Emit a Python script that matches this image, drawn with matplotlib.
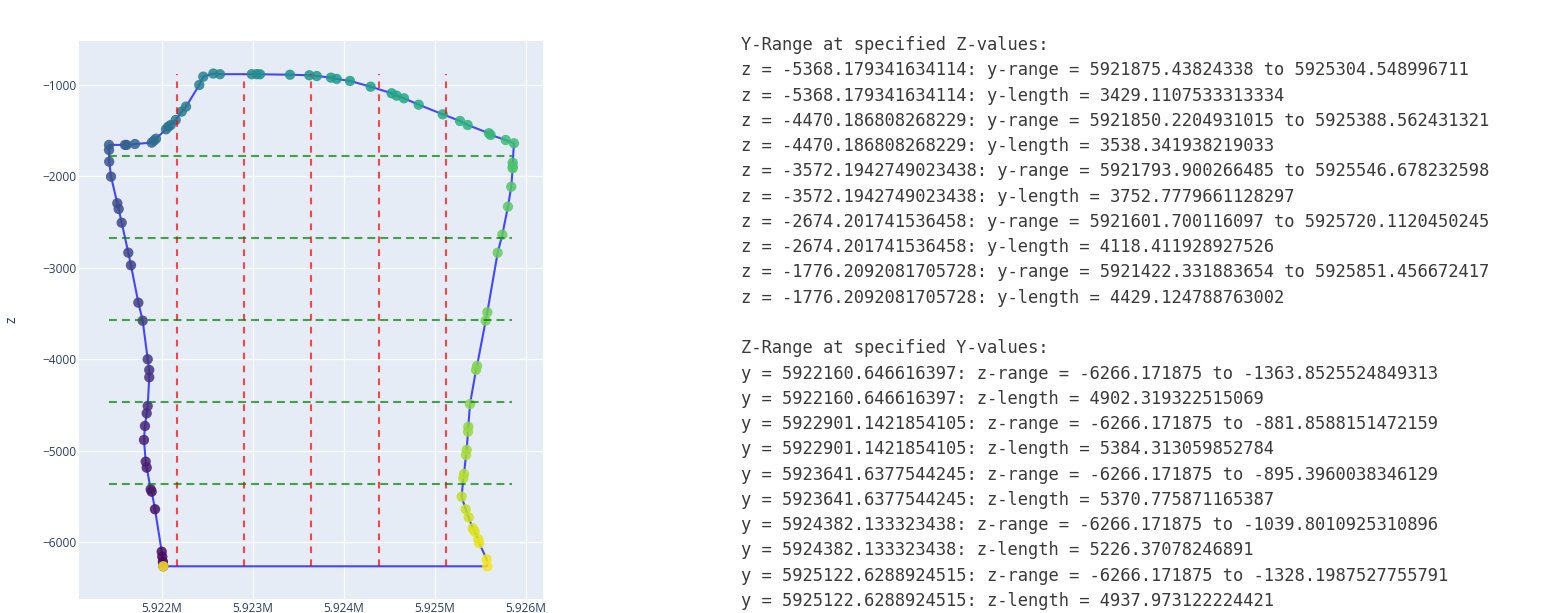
import numpy as np
import matplotlib.pyplot as plt
from matplotlib.ticker import FixedLocator, FuncFormatter

# --- boundary of the section (y, z), traced counter-clockwise, last point closes the loop ---
y_pts = [5922015, 5922010, 5922003, 5921997, 5921923, 5921887, 5921876, 5921832, 5921821,
         5921802, 5921813, 5921832, 5921843, 5921860, 5921860, 5921843, 5921788, 5921740,
         5921659, 5921630, 5921557, 5921524, 5921509, 5921440, 5921420, 5921418, 5921418,
         5921593, 5921612, 5921703, 5921887, 5921912, 5921934, 5922044, 5922069, 5922096,
         5922151, 5922216, 5922264, 5922410, 5922454, 5922564, 5922637, 5922986, 5923041,
         5923077, 5923407, 5923619, 5923700, 5923857, 5923920, 5924066, 5924293, 5924524,
         5924579, 5924659, 5924821, 5925085, 5925275, 5925359, 5925593, 5925612, 5925777,
         5925868, 5925854, 5925854, 5925854, 5925838, 5925802, 5925740, 5925689, 5925575,
         5925557, 5925462, 5925451, 5925385, 5925366, 5925363, 5925348, 5925341, 5925319,
         5925311, 5925293, 5925337, 5925370, 5925414, 5925436, 5925476, 5925487, 5925568,
         5925575, 5922015]
z_pts = [-6266.17, -6216, -6161, -6106, -5642, -5450, -5424, -5187, -5121,
         -4884, -4731, -4592, -4512, -4198, -4118, -4001, -3579, -3382,
         -2973, -2835, -2507, -2357, -2294, -2003, -1839, -1711, -1656,
         -1656, -1656, -1646, -1631, -1609, -1588, -1485, -1456, -1438,
         -1383, -1292, -1237, -1000, -909, -875, -882, -882, -882,
         -883, -888, -894, -902, -920, -934, -956, -1019, -1091,
         -1117, -1146, -1216, -1321, -1394, -1438, -1528, -1547, -1602,
         -1638, -1850, -1894, -1911, -2113, -2331, -2638, -2835, -3487,
         -3579, -4074, -4118, -4490, -4739, -4793, -4993, -5048, -5256,
         -5303, -5504, -5642, -5730, -5850, -5887, -5970, -6014, -6189,
         -6266.17, -6266.17]

# --- slices at given z values ---
z_levels = [-5368.179341634114, -4470.186808268229, -3572.1942749023438,
            -2674.201741536458, -1776.2092081705728]
y_lo = [5921875.43824338, 5921850.2204931015, 5921793.900266485,
        5921601.700116097, 5921422.331883654]
y_hi = [5925304.548996711, 5925388.562431321, 5925546.678232598,
        5925720.1120450245, 5925851.456672417]
y_len = [3429.1107533313334, 3538.341938219033, 3752.7779661128297,
         4118.411928927526, 4429.124788763002]

# --- slices at given y values ---
y_levels = [5922160.646616397, 5922901.1421854105, 5923641.6377544245,
            5924382.133323438, 5925122.6288924515]
z_lo = [-6266.171875, -6266.171875, -6266.171875, -6266.171875, -6266.171875]
z_hi = [-1363.8525524849313, -881.8588151472159, -895.3960038346129,
        -1039.8010925310896, -1328.1987527755791]
z_len = [4902.319322515069, 5384.313059852784, 5370.775871165387,
         5226.37078246891, 4937.973122224421]

x_ticks = [5922000, 5923000, 5924000, 5925000, 5926000]
z_ticks = [-6000, -5000, -4000, -3000, -2000, -1000]

W, H = 1563, 613
fig = plt.figure(figsize=(W / 100, H / 100), dpi=100)
ax = fig.add_axes([79 / W, 1 - 599 / H, 464 / W, 558 / H])
ax.set_facecolor('#E5ECF6')
for s in ax.spines.values():
    s.set_visible(False)

ax.set_xlim(5921088, 5926187)
ax.set_ylim(-6624, -519)
ax.xaxis.set_major_locator(FixedLocator(x_ticks))
ax.yaxis.set_major_locator(FixedLocator(z_ticks))
ax.xaxis.set_major_formatter(FuncFormatter(lambda v, p: f'{v / 1e6:.3f}M'))
ax.yaxis.set_major_formatter(FuncFormatter(lambda v, p: f'\u2212{abs(v):.0f}' if v < 0 else f'{v:.0f}'))
ax.tick_params(length=0, labelsize=8.6, labelcolor='#2a3f5f', pad=2)
for lab in ax.get_xticklabels() + ax.get_yticklabels():
    lab.set_family('Open Sans')
ax.grid(True, color='white', lw=0.9)
ax.set_axisbelow(True)
ax.set_ylabel('z', family='Open Sans', fontsize=10, color='#2a3f5f')
ax.yaxis.set_label_coords(-0.129, 0.5)

# boundary line + points coloured by order
ax.plot(y_pts, z_pts, color='blue', alpha=0.7, lw=1.5, zorder=2)
ax.scatter(y_pts, z_pts, c=np.arange(len(y_pts)), cmap='viridis', s=55,
           alpha=0.85, linewidths=0, zorder=3)

# slice lines
ztop = max(z_hi)
for yv in y_levels:
    ax.plot([yv, yv], [min(z_lo), ztop], color='red', alpha=0.7, lw=1.5,
            dashes=(3.2, 3.0), zorder=4)
for zv in z_levels:
    ax.plot([min(y_lo), max(y_hi)], [zv, zv], color='green', alpha=0.7, lw=1.5,
            dashes=(3.8, 2.4), zorder=5)

# printed output next to the plot
lines = ['Y-Range at specified Z-values:']
for zv, a, b, l in zip(z_levels, y_lo, y_hi, y_len):
    lines.append(f'z = {zv}: y-range = {a} to {b}')
    lines.append(f'z = {zv}: y-length = {l}')
lines.append('')
lines.append('Z-Range at specified Y-values:')
for yv, a, b, l in zip(y_levels, z_lo, z_hi, z_len):
    lines.append(f'y = {yv}: z-range = {a} to {b}')
    lines.append(f'y = {yv}: z-length = {l}')

for i, t in enumerate(lines):
    ypx = 45 + i * 25.27
    fig.text(741 / W, 1 - ypx / H, t, family='DejaVu Sans Mono', fontsize=12.35,
             color='#3a3a3a', va='center', ha='left')

fig.savefig('out.png', dpi=100)
